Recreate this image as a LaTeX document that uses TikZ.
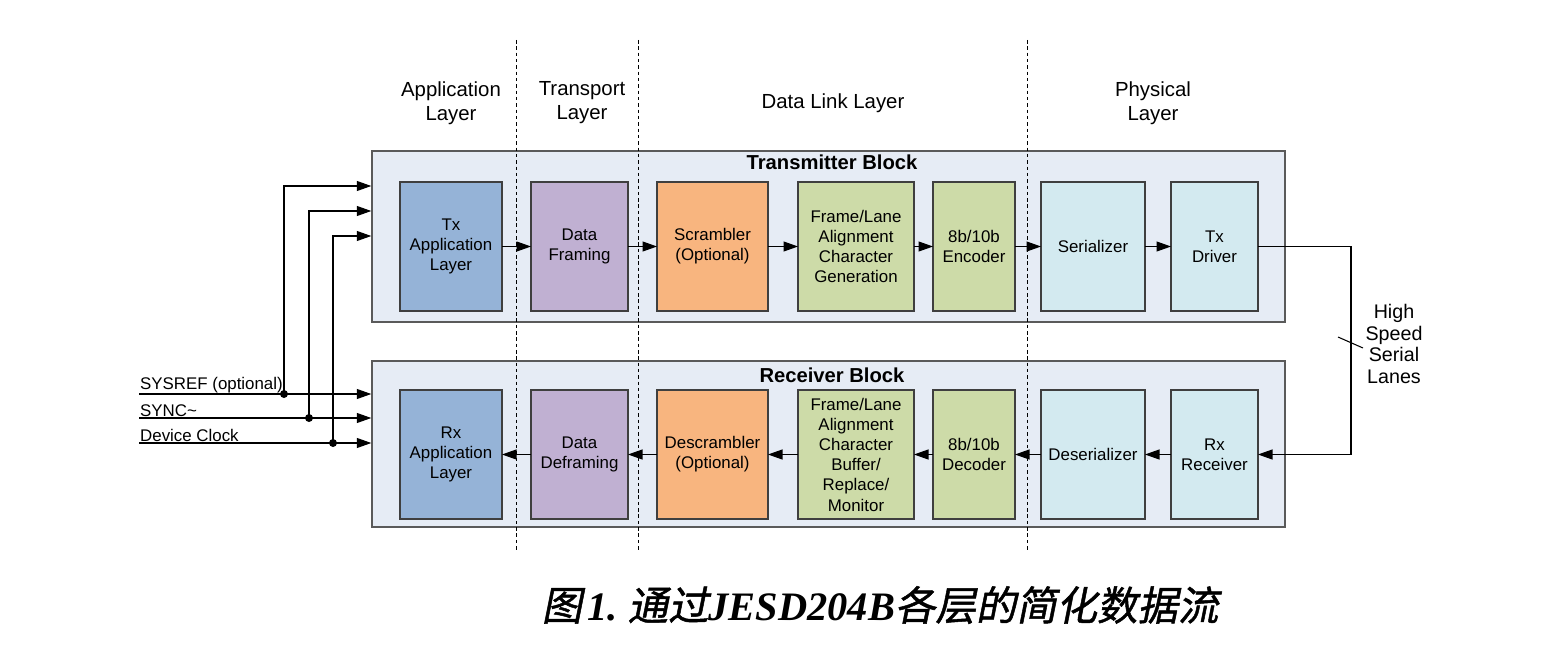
\documentclass[tikz,border=0pt]{standalone}
\usepackage{fontspec}
\setmainfont{Liberation Sans}
\newfontfamily\capfont{Liberation Serif}
\newfontfamily\cjk[FakeSlant=0.2,FakeBold=1.2]{Noto Sans CJK SC}
\usetikzlibrary{arrows.meta,positioning}
\definecolor{blockfill}{HTML}{E6ECF5}
\definecolor{blockline}{HTML}{5A5A5A}
\definecolor{boxline}{HTML}{3F3F3F}
\definecolor{appblue}{HTML}{95B3D7}
\definecolor{trpurple}{HTML}{C0B0D2}
\definecolor{dlorange}{HTML}{F8B57F}
\definecolor{dlgreen}{HTML}{CDDBA8}
\definecolor{phycyan}{HTML}{D3EAF0}

\begin{document}
\begin{tikzpicture}[
  node distance=5.8mm,
  outer/.style={draw=blockline,line width=0.8pt,fill=blockfill,inner sep=0pt},
  box/.style={draw=boxline,line width=0.7pt,minimum height=2.58cm,align=center,inner sep=0pt,outer sep=0pt,font=\fontsize{9.6}{11.5}\selectfont},
  title/.style={font=\bfseries\fontsize{11.5}{13}\selectfont},
  layer/.style={align=center,font=\fontsize{11.6}{13.6}\selectfont},
  sigtext/.style={anchor=south west,inner sep=0.5pt,font=\fontsize{9.6}{11}\selectfont},
  sig/.style={line width=0.6pt,draw=black},
  arr/.style={-{Triangle[length=2.9mm,width=2mm]},line width=0.6pt,draw=black},
  sepline/.style={line width=0.5pt,dash pattern=on 2pt off 1.6pt},
  dot/.style={circle,fill=black,inner sep=0pt,minimum size=1.6mm}
]
\useasboundingbox (0,0) rectangle (31.28,13.12);

% the two blocks
\node[outer,minimum width=18.26cm,minimum height=3.42cm] (txblk) at (16.57,8.39) {};
\node[outer,minimum width=18.26cm,minimum height=3.32cm] (rxblk) at (16.57,4.24) {};
\node[title] (txtitle) at (16.64,9.88) {Transmitter Block};
\node[title] (rxtitle) at (16.64,5.62) {Receiver Block};

% layer borders
\draw[sepline] (10.32,12.32) -- (10.32,2.12);
\draw[sepline] (12.76,12.32) -- (12.76,2.12);
\draw[sepline] (20.54,12.32) -- (20.54,2.12);

\node[layer] (hdapp) at (9.02,11.06) {Application\\Layer};
\node[layer] (hdtrans) at (11.64,11.06) {Transport\\Layer};
\node[layer] (hdlink) at (16.66,11.06) {Data Link Layer};
\node[layer] (hdphy) at (23.06,11.06) {Physical\\Layer};

% transmit path
\node[box,fill=appblue,minimum width=2.04cm] (txapp) at (9.02,8.19) {Tx\\Application\\Layer};
\node[box,fill=trpurple,minimum width=1.94cm,right=of txapp] (txfrm) {Data\\Framing};
\node[box,fill=dlorange,minimum width=2.22cm,right=of txfrm] (txscr) {Scrambler\\(Optional)};
\node[box,fill=dlgreen,minimum width=2.32cm,right=6mm of txscr] (txali) {Frame/Lane\\Alignment\\Character\\Generation};
\node[box,fill=dlgreen,minimum width=1.64cm,right=3.8mm of txali] (txenc) {8b/10b\\Encoder};
\node[box,fill=phycyan,minimum width=2.08cm,right=5.2mm of txenc] (txser) {Serializer};
\node[box,fill=phycyan,minimum width=1.74cm,right=5.2mm of txser] (txdrv) {Tx\\Driver};

% receive path
\node[box,fill=appblue,minimum width=2.04cm,below=1.58cm of txapp] (rxapp) {Rx\\Application\\Layer};
\node[box,fill=trpurple,minimum width=1.94cm,below=1.58cm of txfrm] (rxfrm) {Data\\Deframing};
\node[box,fill=dlorange,minimum width=2.22cm,below=1.58cm of txscr] (rxscr) {Descrambler\\(Optional)};
\node[box,fill=dlgreen,minimum width=2.32cm,below=1.58cm of txali] (rxali) {Frame/Lane\\Alignment\\Character\\Buffer/\\Replace/\\Monitor};
\node[box,fill=dlgreen,minimum width=1.64cm,below=1.58cm of txenc] (rxdec) {8b/10b\\Decoder};
\node[box,fill=phycyan,minimum width=2.08cm,below=1.58cm of txser] (rxdes) {Deserializer};
\node[box,fill=phycyan,minimum width=1.74cm,below=1.58cm of txdrv] (rxrcv) {Rx\\Receiver};

\draw[arr] (txapp) -- (txfrm);
\draw[arr] (txfrm) -- (txscr);
\draw[arr] (txscr) -- (txali);
\draw[arr] (txali) -- (txenc);
\draw[arr] (txenc) -- (txser);
\draw[arr] (txser) -- (txdrv);

\draw[arr] (rxrcv) -- (rxdes);
\draw[arr] (rxdes) -- (rxdec);
\draw[arr] (rxdec) -- (rxali);
\draw[arr] (rxali) -- (rxscr);
\draw[arr] (rxscr) -- (rxfrm);
\draw[arr] (rxfrm) -- (rxapp);

% serial lanes
\draw[arr] (txdrv.east) -- ++(1.86,0) |- (rxrcv.east);
\node[layer,font=\fontsize{11.2}{12.4}\selectfont] (lanes) at (27.88,6.24) {High\\Speed\\Serial\\Lanes};
\coordinate (tickA) at (26.76,6.38);
\coordinate (tickB) at (27.26,6.16);
\draw[sig] (tickA) -- (tickB);

% clocks and sync
\coordinate (sysin) at (2.78,5.24);
\coordinate (syncin) at (2.78,4.76);
\coordinate (clkin) at (2.78,4.26);
\node[sigtext] (syslbl) at (sysin) {SYSREF (optional)};
\node[sigtext] (synclbl) at (syncin) {SYNC\textasciitilde};
\node[sigtext] (clklbl) at (clkin) {Device Clock};
\node[dot] (sysdot) at (5.68,5.24) {};
\node[dot] (syncdot) at (6.18,4.76) {};
\node[dot] (clkdot) at (6.66,4.26) {};
\coordinate (sysup) at (5.68,9.40);
\coordinate (syncup) at (6.18,8.90);
\coordinate (clkup) at (6.66,8.40);
\draw[arr] (sysin) -- (sysin -| rxblk.west);
\draw[arr] (syncin) -- (syncin -| rxblk.west);
\draw[arr] (clkin) -- (clkin -| rxblk.west);
\draw[arr] (sysdot.center) -- (sysup) -- (sysup -| txblk.west);
\draw[arr] (syncdot.center) -- (syncup) -- (syncup -| txblk.west);
\draw[arr] (clkdot.center) -- (clkup) -- (clkup -| txblk.west);

% caption
\node[font=\capfont\bfseries\itshape\fontsize{23}{26}\selectfont] (caption) at (17.6,1.02)
  {{\cjk\mdseries\upshape 图}\kern3pt 1.\ {\cjk\mdseries\upshape 通过}JESD204B{\cjk\mdseries\upshape 各层的简化数据流}};
\end{tikzpicture}
\end{document}
